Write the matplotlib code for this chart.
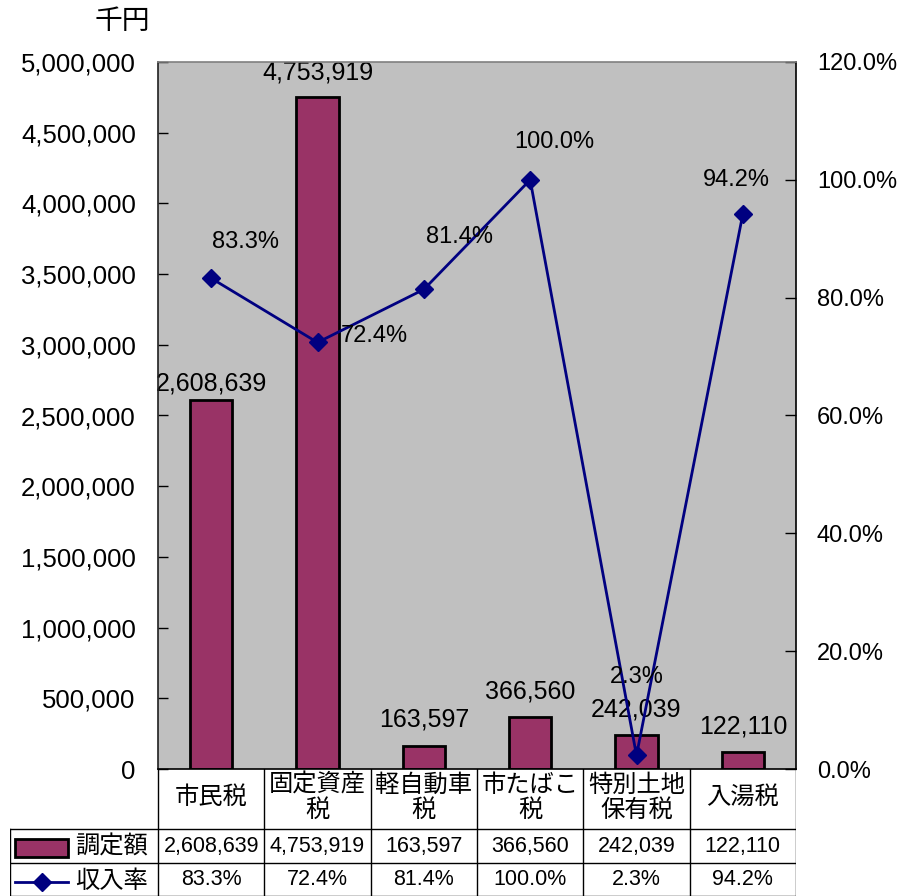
import matplotlib
matplotlib.use("Agg")
import matplotlib.pyplot as plt
from matplotlib.transforms import Affine2D
from matplotlib.patches import Rectangle
from matplotlib.lines import Line2D
from matplotlib.ticker import FuncFormatter

plt.rcParams['font.family'] = ['Liberation Sans', 'Noto Sans CJK JP']

# ---- data ----
categories = ['市民税', '固定資産\n税', '軽自動車\n税', '市たばこ\n税', '特別土地\n保有税', '入湯税']
amounts = [2608639, 4753919, 163597, 366560, 242039, 122110]
rates = [0.833, 0.724, 0.814, 1.000, 0.023, 0.942]
series_amount = '調定額'
series_rate = '収入率'
unit_label = '千円'

# ---- styles / placement ----
W, H = 915, 896
BAR_COLOR = '#993366'
LINE_COLOR = '#000080'
BG = '#C0C0C0'
bar_label_offsets = [17, 24, 26, 26, 25, 25]
rate_label_offsets = [(34, 36), (57, 6), (36, 52), (24, 38), (0, 78), (-6, 34)]

fig = plt.figure(figsize=(W / 100, H / 100), dpi=100)
px = Affine2D().scale(1 / W, -1 / H).translate(0, 1) + fig.transFigure

L, R, T, B = 158, 796, 62, 769
ax = fig.add_axes([L / W, (H - B) / H, (R - L) / W, (B - T) / H])
ax.set_facecolor(BG)
x = list(range(len(categories)))
ax.bar(x, amounts, width=0.4, color=BAR_COLOR, edgecolor='black', linewidth=2, zorder=2)
ax.set_xlim(-0.5, len(categories) - 0.5)
ax.set_ylim(0, 5000000)
ax.set_yticks(range(0, 5000001, 500000))
ax.yaxis.set_major_formatter(FuncFormatter(lambda v, p: f'{int(v):,}'))
ax.set_xticks([])
ax.tick_params(axis='y', direction='in', length=7, width=1, labelsize=18.5, pad=16)
for s in ax.spines.values():
    s.set_visible(False)

for i, v in enumerate(amounts):
    ax.annotate(f'{v:,}', (i, v), xytext=(0, bar_label_offsets[i]), textcoords='offset pixels',
                ha='center', va='center', fontsize=18, zorder=3)

ax2 = ax.twinx()
ax2.plot(x, rates, color=LINE_COLOR, linewidth=2, marker='D', markersize=9,
         markerfacecolor=LINE_COLOR, markeredgecolor=LINE_COLOR, zorder=4)
ax2.set_ylim(0, 1.2)
ax2.set_yticks([0, 0.2, 0.4, 0.6, 0.8, 1.0, 1.2])
ax2.yaxis.set_major_formatter(FuncFormatter(lambda v, p: f'{v * 100:.1f}%'))
ax2.tick_params(axis='y', direction='in', length=8, width=1, labelsize=17, pad=15)
ax2.spines['top'].set_color('#808080')
ax2.spines['left'].set_color('#202020')
ax2.spines['right'].set_color('black')
ax2.spines['bottom'].set_color('black')
for s in ax2.spines.values():
    s.set_linewidth(1.2)

for i, r in enumerate(rates):
    dx, dy = rate_label_offsets[i]
    ax2.annotate(f'{r * 100:.1f}%', (i, r), xytext=(dx, dy), textcoords='offset pixels',
                 ha='center', va='center', fontsize=17, zorder=5)

fig.text(122, 22, unit_label, transform=px, ha='center', va='center', fontsize=20)

# ---- data table ----
unit = (R - L) / len(categories)
tab_left = 10
tab = fig.add_axes([tab_left / W, 0, (R - tab_left) / W, (H - B) / H])
tab.set_xlim(-0.5 - (L - tab_left) / unit, len(categories) - 0.5)
tab.set_ylim(0, H - B)
tab.axis('off')
xmin = -0.5 - (L - tab_left) / unit
y_row1_top = H - 829
y_row2_top = H - 863
for k in range(len(categories) + 1):
    tab.plot([k - 0.5, k - 0.5], [0, H - B], color='black', lw=1)
tab.plot([xmin, xmin], [0, y_row1_top], color='black', lw=1)
for yy in (y_row1_top, y_row2_top, 0.5):
    tab.plot([xmin, len(categories) - 0.5], [yy, yy], color='black', lw=1)

for i, c in enumerate(categories):
    tab.text(i, (H - B + y_row1_top) / 2 + 1, c, ha='center', va='center', fontsize=17.5,
             linespacing=1.15)
    tab.text(i, (y_row1_top + y_row2_top) / 2, f'{amounts[i]:,}', ha='center', va='center', fontsize=15.5)
    tab.text(i, y_row2_top / 2, f'{rates[i] * 100:.1f}%', ha='center', va='center', fontsize=15.5)

# legend keys
fig.patches.append(Rectangle((15, 857), 53, -18, transform=px, facecolor=BAR_COLOR,
                             edgecolor='black', linewidth=2))
fig.text(75, 847, series_amount, transform=px, ha='left', va='center', fontsize=17.5)
fig.lines.append(Line2D([15, 68], [882, 882], transform=px, color=LINE_COLOR, lw=2))
fig.lines.append(Line2D([42], [882], transform=px, color=LINE_COLOR, marker='D', markersize=9))
fig.text(75, 882, series_rate, transform=px, ha='left', va='center', fontsize=17.5)

fig.savefig('out.png', dpi=100)
